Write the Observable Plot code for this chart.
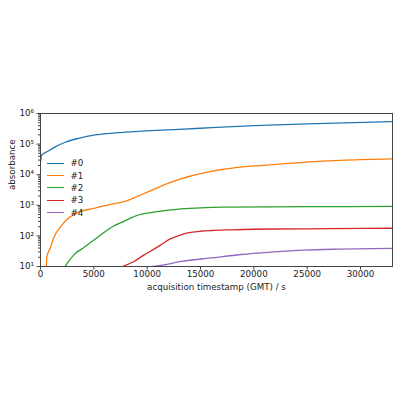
<!DOCTYPE html>
<html>
<head>
<meta charset="utf-8">
<script src="https://cdn.jsdelivr.net/npm/d3@7"></script>
<script src="https://cdn.jsdelivr.net/npm/@observablehq/plot@0.6"></script>
<style>
  body { margin: 0; background: #fff; }
  #wrap { position: relative; width: 400px; height: 400px; font-family: "DejaVu Sans", sans-serif; }
  #legend { position: absolute; left: 47px; top: 157px; font-size: 8.7px; color: #222; }
  .item { display: flex; align-items: center; height: 12.4px; }
  .sw { width: 17px; height: 0; border-top: 1.6px solid; margin-right: 6.5px; }
</style>
</head>
<body>
<div id="wrap"><div id="legend"></div></div>
<script>
const seriesNames = ["#0", "#1", "#2", "#3", "#4"];
const colors = ["#1f77b4", "#ff7f0e", "#2ca02c", "#d62728", "#9467bd"];

const t0 = [0, 120, 600, 1380, 2320, 3570, 5140, 6550, 7960, 10780, 13000, 15000, 17500, 20000, 25000, 33000];
const v0 = [2.6e4, 4.4e4, 5.6e4, 8.1e4, 1.15e5, 1.55e5, 2.0e5, 2.25e5, 2.45e5, 2.8e5, 3.05e5, 3.3e5, 3.65e5, 4.0e5, 4.6e5, 5.4e5];

const t1 = [560, 580, 940, 1250, 1880, 2500, 3450, 5000, 6580, 7900, 9000, 10000, 11000, 12000, 13000, 14000, 15000, 16000, 17000, 18000, 19000, 20000, 21500, 24000, 27000, 30000, 33000];
const v1 = [10, 20, 42, 89, 200, 350, 570, 790, 1070, 1340, 1900, 2700, 3800, 5300, 7000, 8900, 10800, 12800, 14800, 16500, 18000, 19300, 21000, 24500, 28500, 31000, 33000];

const t2 = [2290, 3130, 4070, 5010, 5950, 6740, 7830, 8500, 9000, 9600, 10340, 11500, 12530, 14000, 15040, 17000, 25000, 33000];
const v2 = [10, 24, 42, 73, 130, 200, 300, 390, 460, 525, 580, 660, 720, 790, 830, 870, 900, 920];

const t3 = [7680, 8770, 9710, 10340, 11280, 12220, 13160, 14100, 15000, 16000, 18000, 21620, 27000, 33000];
const v3 = [10, 14.6, 24, 32, 51, 81, 109, 130, 142, 150, 158, 168, 172, 178];

const t4 = [10500, 11280, 13160, 15980, 18800, 21620, 24750, 27880, 33000];
const v4 = [10, 10.8, 14.6, 19, 24.7, 29.6, 34.5, 37, 39];

const xTicks = [0, 5000, 10000, 15000, 20000, 25000, 30000];
const yMajor = [1e1, 1e2, 1e3, 1e4, 1e5, 1e6];
const yLabels = ["10¹", "10²", "10³", "10⁴", "10⁵", "10⁶"];

const allT = [t0, t1, t2, t3, t4];
const allV = [v0, v1, v2, v3, v4];
const data = [];
allT.forEach((ts, i) => ts.forEach((t, j) => data.push({t, v: allV[i][j], s: seriesNames[i]})));

const yMinor = [];
for (let e = 1; e < 6; e++) for (let m = 2; m <= 9; m++) yMinor.push(m * Math.pow(10, e));

const chart = Plot.plot({
  width: 400,
  height: 400,
  marginLeft: 40,
  marginRight: 8,
  marginTop: 113,
  marginBottom: 134,
  style: {fontFamily: "DejaVu Sans, sans-serif", fontSize: "8.7px", color: "#222", background: "#fff"},
  x: {domain: [0, 33000]},
  y: {type: "log", domain: [10, 1e6]},
  color: {domain: seriesNames, range: colors},
  marks: [
    Plot.line(data, {x: "t", y: "v", z: "s", stroke: "s", strokeWidth: 1.3, curve: "monotone-x", clip: true}),
    Plot.frame({stroke: "#444", strokeWidth: 1}),
    Plot.axisX({ticks: xTicks, tickSize: 3.5, tickPadding: 1, tickFormat: d3.format("d"), label: null, stroke: "#444"}),
    Plot.axisY({ticks: yMajor, tickSize: 3.5, tickPadding: 3, tickFormat: (d) => yLabels[yMajor.indexOf(d)], label: null, stroke: "#444"}),
    Plot.axisY({ticks: yMinor, tickSize: 2, tickFormat: () => "", label: null, stroke: "#444"}),
    Plot.text(["acquisition timestamp (GMT) / s"], {frameAnchor: "bottom", lineAnchor: "middle", dy: 20.5, fill: "#222", fontSize: 8.7}),
    Plot.text(["absorbance"], {frameAnchor: "left", lineAnchor: "middle", dx: -28, rotate: -90, fill: "#222", fontSize: 8.7})
  ]
});
const wrap = document.getElementById("wrap");
wrap.insertBefore(chart, wrap.firstChild);

const legend = document.getElementById("legend");
seriesNames.forEach((n, i) => {
  const item = document.createElement("div");
  item.className = "item";
  const sw = document.createElement("div");
  sw.className = "sw";
  sw.style.borderTopColor = colors[i];
  const lab = document.createElement("span");
  lab.textContent = n;
  item.appendChild(sw);
  item.appendChild(lab);
  legend.appendChild(item);
});
</script>
</body>
</html>
